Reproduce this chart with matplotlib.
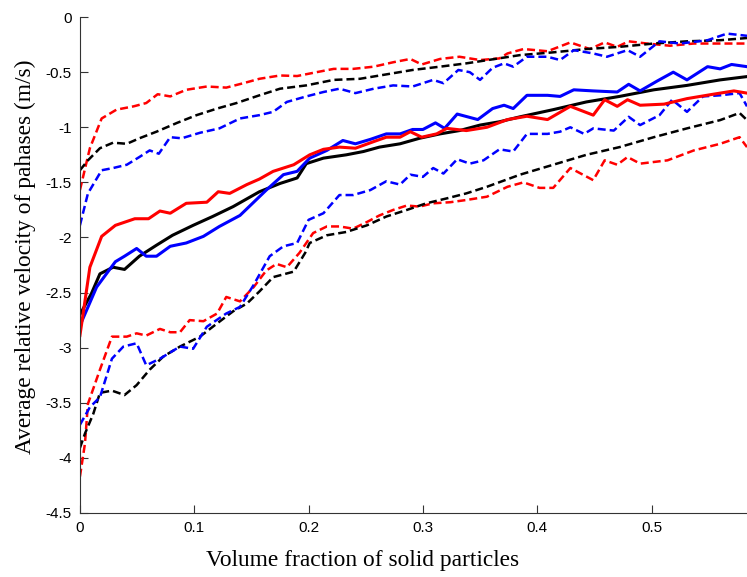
import matplotlib
matplotlib.use('Agg')
import matplotlib.pyplot as plt

# upper dashed group
up_red_x = [0, 0.0087, 0.019, 0.032, 0.047, 0.058, 0.068, 0.079, 0.093, 0.111, 0.128, 0.143, 0.157, 0.175, 0.19,
            0.207, 0.222, 0.239, 0.257, 0.274, 0.289, 0.299, 0.315, 0.332, 0.35, 0.367, 0.374, 0.388, 0.409, 0.429,
            0.446, 0.459, 0.47, 0.48, 0.496, 0.516, 0.537, 0.56, 0.5835]
up_red_y = [-1.57, -1.19, -0.92, -0.84, -0.81, -0.78, -0.70, -0.72, -0.66, -0.63, -0.64, -0.60, -0.56, -0.53, -0.535,
            -0.50, -0.47, -0.47, -0.45, -0.41, -0.38, -0.43, -0.38, -0.36, -0.39, -0.375, -0.33, -0.29, -0.31, -0.23,
            -0.29, -0.23, -0.27, -0.22, -0.24, -0.26, -0.24, -0.24, -0.24]

up_black_x = [0, 0.007, 0.0175, 0.029, 0.041, 0.052, 0.067, 0.085, 0.102, 0.12, 0.137, 0.157, 0.175, 0.198, 0.222,
              0.245, 0.268, 0.291, 0.315, 0.338, 0.36, 0.385, 0.414, 0.443, 0.472, 0.502, 0.531, 0.56, 0.5835]
up_black_y = [-1.39, -1.30, -1.19, -1.14, -1.15, -1.10, -1.04, -0.96, -0.89, -0.83, -0.78, -0.71, -0.65, -0.62, -0.57,
              -0.56, -0.52, -0.48, -0.45, -0.42, -0.385, -0.345, -0.32, -0.29, -0.27, -0.24, -0.22, -0.21, -0.19]

up_blue_x = [0, 0.007, 0.019, 0.029, 0.041, 0.052, 0.061, 0.069, 0.079, 0.089, 0.105, 0.122, 0.14, 0.157, 0.169,
             0.181, 0.198, 0.213, 0.227, 0.241, 0.257, 0.274, 0.291, 0.309, 0.318, 0.331, 0.341, 0.35, 0.361, 0.371,
             0.379, 0.391, 0.409, 0.42, 0.432, 0.449, 0.461, 0.479, 0.49, 0.507, 0.525, 0.549, 0.566, 0.5835]
up_blue_y = [-1.89, -1.60, -1.39, -1.37, -1.34, -1.27, -1.21, -1.24, -1.09, -1.10, -1.05, -1.01, -0.92, -0.89, -0.86,
             -0.77, -0.72, -0.68, -0.65, -0.69, -0.65, -0.62, -0.63, -0.57, -0.60, -0.48, -0.50, -0.57, -0.46, -0.42,
             -0.45, -0.36, -0.36, -0.39, -0.30, -0.33, -0.36, -0.30, -0.36, -0.22, -0.24, -0.21, -0.15, -0.17]

# middle solid group
mid_red_x = [0, 0.0087, 0.019, 0.031, 0.048, 0.06, 0.07, 0.079, 0.093, 0.111, 0.121, 0.131, 0.146, 0.157, 0.169,
             0.187, 0.201, 0.213, 0.227, 0.241, 0.257, 0.268, 0.28, 0.289, 0.299, 0.312, 0.321, 0.338, 0.356, 0.374,
             0.391, 0.409, 0.429, 0.449, 0.459, 0.47, 0.479, 0.49, 0.511, 0.531, 0.554, 0.572, 0.5835]
mid_red_y = [-2.89, -2.27, -1.99, -1.89, -1.83, -1.83, -1.76, -1.78, -1.69, -1.68, -1.585, -1.60, -1.52, -1.47, -1.40,
             -1.34, -1.25, -1.20, -1.18, -1.19, -1.13, -1.09, -1.09, -1.04, -1.09, -1.06, -1.01, -1.03, -1.00, -0.93,
             -0.90, -0.93, -0.81, -0.89, -0.75, -0.81, -0.75, -0.80, -0.79, -0.74, -0.70, -0.67, -0.69]

mid_black_x = [0, 0.010, 0.0175, 0.029, 0.039, 0.052, 0.067, 0.081, 0.099, 0.116, 0.134, 0.157, 0.175, 0.19, 0.198,
               0.213, 0.233, 0.248, 0.262, 0.28, 0.297, 0.315, 0.332, 0.35, 0.367, 0.385, 0.414, 0.443, 0.472, 0.502,
               0.531, 0.56, 0.5835]
mid_black_y = [-2.70, -2.51, -2.33, -2.27, -2.29, -2.17, -2.07, -1.98, -1.89, -1.81, -1.72, -1.585, -1.51, -1.46, -1.33,
               -1.28, -1.25, -1.22, -1.18, -1.15, -1.10, -1.06, -1.03, -0.98, -0.95, -0.905, -0.84, -0.77, -0.72, -0.66,
               -0.62, -0.57, -0.54]

mid_blue_x = [0, 0.0146, 0.031, 0.039, 0.0496, 0.058, 0.067, 0.079, 0.093, 0.108, 0.122, 0.14, 0.149, 0.163, 0.178,
              0.19, 0.201, 0.216, 0.23, 0.241, 0.254, 0.268, 0.28, 0.291, 0.30, 0.311, 0.319, 0.33, 0.348, 0.361,
              0.371, 0.379, 0.391, 0.409, 0.42, 0.432, 0.449, 0.47, 0.48, 0.49, 0.505, 0.519, 0.531, 0.549, 0.56,
              0.57, 0.5835]
mid_blue_y = [-2.80, -2.45, -2.22, -2.17, -2.10, -2.17, -2.17, -2.08, -2.05, -1.99, -1.90, -1.80, -1.71, -1.57, -1.43,
              -1.40, -1.28, -1.21, -1.12, -1.15, -1.11, -1.06, -1.06, -1.02, -1.02, -0.96, -1.01, -0.88, -0.93, -0.83,
              -0.80, -0.83, -0.71, -0.71, -0.72, -0.66, -0.67, -0.68, -0.61, -0.67, -0.58, -0.50, -0.57, -0.45, -0.47,
              -0.43, -0.45]

# lower dashed group
low_red_x = [0, 0.0044, 0.007, 0.0175, 0.028, 0.041, 0.0496, 0.058, 0.07, 0.079, 0.0875, 0.096, 0.108, 0.12, 0.128,
             0.14, 0.152, 0.163, 0.172, 0.181, 0.192, 0.204, 0.216, 0.227, 0.239, 0.251, 0.262, 0.274, 0.286, 0.297,
             0.309, 0.324, 0.338, 0.356, 0.374, 0.388, 0.402, 0.414, 0.429, 0.449, 0.459, 0.47, 0.479, 0.49, 0.514,
             0.537, 0.56, 0.577, 0.5835]
low_red_y = [-4.17, -3.87, -3.51, -3.20, -2.90, -2.90, -2.87, -2.89, -2.83, -2.86, -2.86, -2.75, -2.76, -2.69, -2.54,
             -2.58, -2.45, -2.30, -2.24, -2.27, -2.14, -1.96, -1.90, -1.90, -1.92, -1.86, -1.80, -1.75, -1.71, -1.72,
             -1.69, -1.68, -1.66, -1.63, -1.54, -1.50, -1.55, -1.55, -1.37, -1.48, -1.30, -1.34, -1.27, -1.33, -1.30,
             -1.21, -1.15, -1.09, -1.18]

low_black_x = [0, 0.0044, 0.0117, 0.0175, 0.028, 0.039, 0.0496, 0.061, 0.073, 0.0875, 0.105, 0.12, 0.134, 0.146, 0.157,
               0.169, 0.187, 0.197, 0.201, 0.216, 0.233, 0.251, 0.268, 0.286, 0.303, 0.321, 0.338, 0.356, 0.385, 0.414,
               0.443, 0.472, 0.502, 0.531, 0.56, 0.577, 0.5835]
low_black_y = [-3.91, -3.78, -3.60, -3.41, -3.39, -3.43, -3.34, -3.20, -3.08, -2.99, -2.90, -2.78, -2.67, -2.60, -2.49,
               -2.36, -2.31, -2.14, -2.05, -1.98, -1.95, -1.89, -1.81, -1.75, -1.69, -1.645, -1.60, -1.54, -1.43, -1.34,
               -1.25, -1.18, -1.09, -1.01, -0.935, -0.87, -0.935]

low_blue_x = [0, 0.0087, 0.0175, 0.028, 0.038, 0.0496, 0.058, 0.07, 0.0875, 0.099, 0.111, 0.128, 0.14, 0.152, 0.166,
              0.178, 0.19, 0.20, 0.213, 0.227, 0.239, 0.254, 0.268, 0.28, 0.289, 0.30, 0.309, 0.318, 0.33, 0.341,
              0.353, 0.367, 0.379, 0.391, 0.409, 0.42, 0.429, 0.441, 0.449, 0.467, 0.48, 0.49, 0.507, 0.518, 0.531,
              0.545, 0.56, 0.577, 0.5835]
low_blue_y = [-3.70, -3.54, -3.45, -3.10, -2.99, -2.96, -3.16, -3.10, -2.99, -3.01, -2.81, -2.69, -2.63, -2.43, -2.17,
              -2.08, -2.05, -1.84, -1.78, -1.615, -1.615, -1.57, -1.49, -1.52, -1.43, -1.45, -1.37, -1.42, -1.29, -1.33,
              -1.30, -1.20, -1.22, -1.06, -1.06, -1.04, -1.00, -1.06, -1.01, -1.03, -0.905, -0.98, -0.89, -0.75, -0.86,
              -0.72, -0.71, -0.69, -0.81]

x_ticks = [0, 0.1, 0.2, 0.3, 0.4, 0.5]
y_ticks = [0, -0.5, -1, -1.5, -2, -2.5, -3, -3.5, -4, -4.5]
y_tick_labels = ['0', '-0.5', '-1', '-1.5', '-2', '-2.5', '-3', '-3.5', '-4', '-4.5']

RED = '#ff0000'
BLUE = '#0000ff'
BLACK = '#000000'
DASH = (3.2, 1.6)

fig = plt.figure(figsize=(7.47, 5.77), dpi=100)
ax = fig.add_axes([0.107, 0.111, 0.893, 0.8594])

# dashed bands
for xs, ys, c in [(up_red_x, up_red_y, RED), (up_black_x, up_black_y, BLACK), (up_blue_x, up_blue_y, BLUE),
                  (low_red_x, low_red_y, RED), (low_black_x, low_black_y, BLACK), (low_blue_x, low_blue_y, BLUE)]:
    ax.plot(xs, ys, color=c, lw=1.8, linestyle='--', dashes=DASH)

# solid mean lines
ax.plot(mid_black_x, mid_black_y, color=BLACK, lw=2.2)
ax.plot(mid_blue_x, mid_blue_y, color=BLUE, lw=2.2)
ax.plot(mid_red_x, mid_red_y, color=RED, lw=2.2)

ax.set_xlim(0, 0.5835)
ax.set_ylim(-4.5, 0)
ax.set_xticks(x_ticks)
ax.set_xticklabels([str(t) for t in x_ticks], fontfamily='Liberation Sans', fontsize=11)
ax.set_yticks(y_ticks)
ax.set_yticklabels(y_tick_labels, fontfamily='Liberation Sans', fontsize=11)
ax.tick_params(direction='in', length=6, width=0.8, color='#333333', pad=6)

ax.spines['top'].set_visible(False)
ax.spines['right'].set_visible(False)
ax.spines['left'].set_color('#333333')
ax.spines['bottom'].set_color('#333333')

ax.set_xlabel('Volume fraction of solid particles', fontfamily='Liberation Serif', fontsize=16.8)
ax.set_ylabel('Average relative velocity of pahases (m/s)', fontfamily='Liberation Serif', fontsize=16.8)
ax.xaxis.set_label_coords(0.424, -0.075)
ax.yaxis.set_label_coords(-0.066, 0.516)

fig.savefig('out.png', dpi=100)
